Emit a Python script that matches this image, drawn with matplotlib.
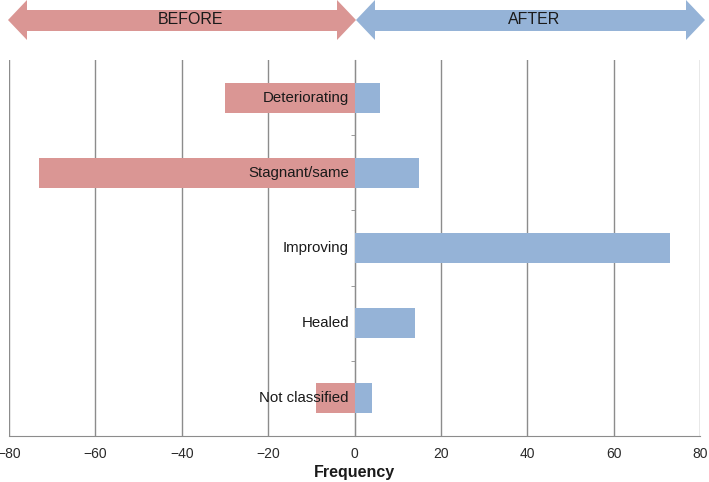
import matplotlib
matplotlib.use("Agg")
import matplotlib.pyplot as plt
from matplotlib.patches import Polygon
from matplotlib.ticker import FixedLocator

plt.rcParams['font.family'] = ['Liberation Sans', 'DejaVu Sans']

categories = ["Deteriorating", "Stagnant/same", "Improving", "Healed", "Not classified"]
before = [-30, -73, 0, 0, -9]
after = [6, 15, 73, 14, 4]
xticks = [-80, -60, -40, -20, 0, 20, 40, 60, 80]

pink = "#DA9694"
blue = "#95B3D7"
grid_c = "#8C8C8C"

W, H = 709, 482
fig = plt.figure(figsize=(W / 100, H / 100), dpi=100)
ax = fig.add_axes([9 / W, 1 - 436 / H, 691 / W, 376 / H])

n = len(categories)
ypos = [n - 1 - i for i in range(n)]
ax.barh(ypos, before, height=0.4, color=pink, zorder=2)
ax.barh(ypos, after, height=0.4, color=blue, zorder=2)
for y, lab in zip(ypos, categories):
    ax.text(-1.3, y, lab, ha='right', va='center', fontsize=10.8, color='#1a1a1a', zorder=3)

ax.set_xlim(-80, 80)
ax.set_ylim(-0.5, n - 0.5)
ax.set_xticks(xticks)
ax.set_xticklabels([("\u2212" + str(abs(t))) if t < 0 else str(t) for t in xticks])
ax.tick_params(axis='x', length=0, labelsize=10, colors='#2a2a2a', pad=8)
ax.set_yticks([])
for t in xticks:
    ax.axvline(t, color=grid_c, lw=1, zorder=1)

# y-axis as zero line with minor ticks at category boundaries
ax.spines['left'].set_position(('data', 0))
ax.spines['left'].set_color(grid_c)
ax.spines['left'].set_zorder(1)
ax.yaxis.set_minor_locator(FixedLocator([0.5, 1.5, 2.5, 3.5]))
ax.tick_params(axis='y', which='minor', length=3, color=grid_c, direction='out')
ax.spines['top'].set_visible(False)
ax.spines['right'].set_visible(False)
ax.spines['bottom'].set_color(grid_c)
ax.set_xlabel("Frequency", fontsize=11.5, fontweight='bold', labelpad=3, color='#1a1a1a')


def arrow(x0, x1, color):
    # coordinates in figure pixels (y from top)
    top, bot = 0, 40
    s0, s1 = 10, 31
    head = 19
    mid = (top + bot) / 2
    pts = [(x0, mid), (x0 + head, top), (x0 + head, s0), (x1 - head, s0), (x1 - head, top),
           (x1, mid), (x1 - head, bot), (x1 - head, s1), (x0 + head, s1), (x0 + head, bot)]
    pts = [(px / W, 1 - py / H) for px, py in pts]
    fig.patches.append(Polygon(pts, closed=True, facecolor=color, edgecolor='none',
                               transform=fig.transFigure))


arrow(8, 356, pink)
arrow(356, 705, blue)
fig.text(190 / W, 1 - 20 / H, "BEFORE", ha='center', va='center', fontsize=11.5, color='#1a1a1a')
fig.text(534 / W, 1 - 20 / H, "AFTER", ha='center', va='center', fontsize=11.5, color='#1a1a1a')

fig.savefig("out.png", dpi=100)
